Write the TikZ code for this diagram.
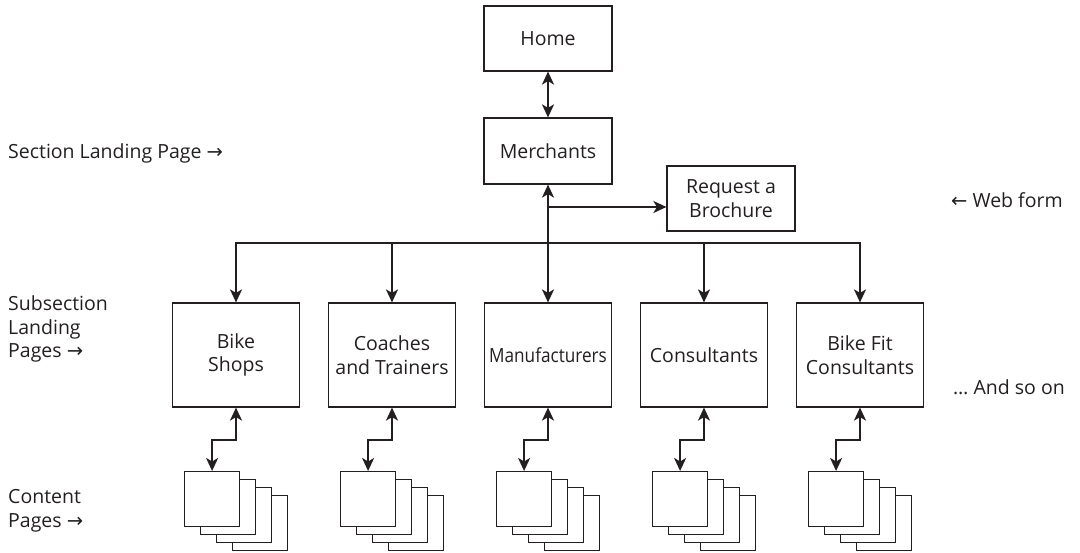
\documentclass[tikz,border=0pt]{standalone}
\usepackage{fontspec}
\usepackage{graphicx}
\setmainfont{Open Sans}
\newfontfamily\arrowfont{DejaVu Sans}
\usetikzlibrary{arrows.meta,calc}
\definecolor{ink}{RGB}{35,31,32}
\begin{document}
\begin{tikzpicture}[x=1pt,y=-1pt,
  every node/.style={font=\fontsize{19.5}{23.5}\selectfont, text=ink},
  page/.style={draw=ink, line width=1.2pt, fill=white, inner sep=0pt, align=center},
  tip/.tip={Stealth[length=13pt,width=12pt,inset=3.5pt]},
  link/.style={draw=ink, line width=2pt, -tip},
  both/.style={draw=ink, line width=2pt, tip-tip},
  sheet/.style={draw=ink, line width=1.2pt, fill=white, inner sep=0pt, minimum size=55pt},
  side/.style={align=left, anchor=west, inner sep=0pt}]
\useasboundingbox (0,0) rectangle (1080,553);

% top of the hierarchy
\node[page, minimum width=128pt, minimum height=65pt] (home) at (548,38.5) {Home};
\node[page, minimum width=128pt, minimum height=66pt] (merch) at (548,151) {Merchants};
\node[page, minimum width=128pt, minimum height=65pt] (req) at (731,198.5) {Request a\\Brochure};

% subsection landing pages
\foreach \i/\x/\txt in {1/236/{Bike\\Shops},
                        2/392/{Coaches\\and Trainers},
                        3/548/{\scalebox{0.88}[1]{Manufacturers}},
                        4/704/{Consultants},
                        5/860/{Bike Fit\\Consultants}}{
  \node[page, minimum width=127pt, minimum height=104pt] (c\i) at (\x,355) {\txt};
  % stacked content pages, back sheets first
  \foreach \k in {3,2,1}{
    \node[sheet, anchor=north west] (s\i-\k) at ({\x-52+16*\k},{471+8*\k}) {};
  }
  \node[sheet, anchor=north west] (s\i) at ({\x-52},471) {};
  \draw[both] (c\i.south) -- ++(0,32) -| (s\i.north);
}

\coordinate (bus) at (548,243);
\coordinate (brj) at (548,207);

\draw[both] (home.south) -- (merch.north);
\draw[link] (bus) -- (merch.south);
\draw[link] (brj) -- (brj -| req.west);
\draw[both] (c1.north) -- (c1.north |- bus) -- (c5.north |- bus) -- (c5.north);
\foreach \i in {2,3,4}{
  \draw[link] (c\i.north |- bus) -- (c\i.north);
}

% side notes
\node[side] (sec) at (8,153) {Section Landing Page {\arrowfont→}};
\node[side] (sub) at (8,329) {Subsection\\Landing\\Pages {\arrowfont→}};
\node[side] (cont) at (8,511) {Content\\Pages {\arrowfont→}};
\node[side] (web) at (951,200) {{\arrowfont←} Web form};
\node[side] (more) at (953,387) {… And so on};
\end{tikzpicture}
\end{document}
